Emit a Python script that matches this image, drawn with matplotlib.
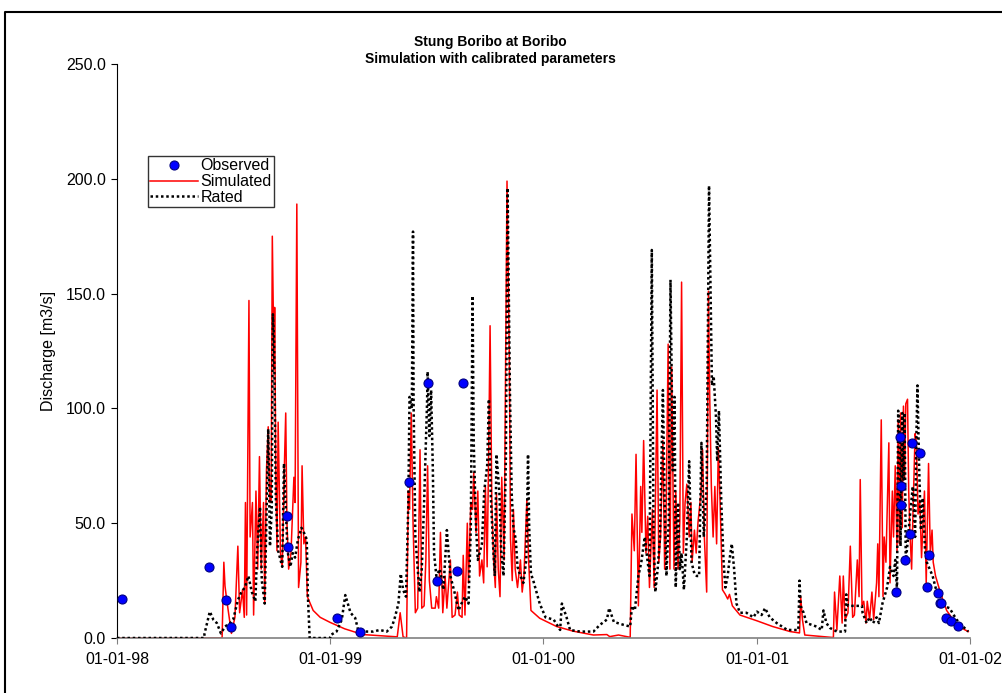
import matplotlib
matplotlib.use("Agg")
import matplotlib.pyplot as plt
from matplotlib.lines import Line2D

plt.rcParams['font.family'] = ['Liberation Sans', 'DejaVu Sans']

# days counted from 01-01-1998
sim_days = [0, 180, 183, 185, 188, 196, 202, 207, 210, 215, 218, 220, 222, 226, 228, 232, 234, 238,
            241, 244, 247, 251, 253, 256, 259, 262, 264, 266, 269, 270, 272, 274, 276, 280, 283, 287,
            289, 291, 294, 298, 303, 305, 308, 311, 315, 317, 320, 323, 326, 336, 348, 365, 390, 421,
            480, 485, 490, 496, 499, 501, 504, 507, 511, 515, 519, 522, 526, 529, 532, 535, 539, 545,
            547, 551, 554, 558, 562, 565, 571, 574, 579, 583, 586, 591, 593, 596, 600, 602, 606, 609,
            611, 615, 618, 621, 625, 628, 631, 634, 637, 639, 642, 645, 648, 650, 653, 656, 659, 663,
            668, 672, 674, 677, 679, 682, 686, 691, 694, 697, 702, 705, 709, 724, 753, 781, 816, 839,
            844, 859, 879, 882, 886, 889, 893, 897, 899, 902, 906, 909, 912, 917, 920, 925, 928, 931,
            935, 938, 940, 944, 947, 950, 954, 957, 961, 964, 967, 970, 973, 976, 980, 983, 985, 989,
            992, 995, 1000, 1003, 1006, 1010, 1013, 1015, 1018, 1021, 1024, 1027, 1030, 1033, 1037,
            1042, 1046, 1049, 1054, 1067, 1096, 1123, 1153, 1169, 1171, 1174, 1178, 1227, 1229, 1233,
            1238, 1242, 1244, 1247, 1252, 1256, 1260, 1263, 1268, 1271, 1273, 1276, 1279, 1283, 1285,
            1289, 1293, 1296, 1301, 1303, 1305, 1309, 1312, 1314, 1317, 1322, 1324, 1328, 1330, 1333,
            1336, 1338, 1340, 1342, 1345, 1347, 1349, 1351, 1354, 1356, 1358, 1361, 1364, 1367, 1369,
            1372, 1375, 1378, 1380, 1383, 1386, 1390, 1393, 1396, 1398, 1402, 1410, 1421, 1432, 1446,
            1458]
sim_vals = [0, 0, 33, 22.6, 16.5, 2, 9, 40, 11, 21, 9, 59, 10, 147, 44, 59, 10, 64,
            30, 79, 30, 59, 15, 73, 92, 59, 60, 175, 117, 144, 73, 38, 94, 37, 31, 78,
            98, 51, 30, 37, 70, 59, 189, 22, 33, 75, 41, 44, 18, 12, 9, 6.8, 4, 1.5,
            0.5, 11, 0.5, 0, 64, 56, 98, 51, 11, 13, 82, 13, 14, 34, 75, 25, 13, 13,
            18, 13, 46, 11, 27, 13, 34, 9, 10, 20, 10, 9, 36, 10, 50, 24, 59, 56,
            72, 46, 64, 27, 34, 24, 66, 31, 89, 136, 59, 34, 22, 63, 30, 18, 70, 34,
            199, 121, 43, 25, 56, 30, 22, 34, 20, 27, 60, 34, 12, 8.6, 5, 3, 1.3, 1.5,
            0.6, 1.3, 0.3, 54, 38, 80, 14, 66, 46, 86, 37, 53, 22, 56, 22, 108, 33, 44,
            86, 30, 44, 128, 30, 118, 30, 64, 30, 51, 155, 37, 59, 67, 44, 59, 33, 47,
            37, 50, 63, 82, 44, 20, 151, 108, 66, 44, 66, 41, 83, 59, 21,
            19, 17, 19, 14, 10, 7.5, 5, 2.8, 2.2, 18, 8, 1.3, 0.2, 20, 3.5,
            27, 6.5, 27, 8, 11, 40, 9, 10, 34, 18, 69, 14, 16, 6.5, 16,
            8, 20, 8, 24, 41, 18, 95, 18, 44, 33, 85, 24, 64, 44, 75,
            38, 95, 41, 98, 48, 101, 69, 102, 104, 64, 47, 30, 61, 89, 86,
            54, 60, 35, 47, 64, 24, 76, 37, 47, 33, 27, 20, 12, 8, 4.4,
            2.8]

rated_days = [0, 149, 150, 159, 165, 171, 178, 185, 194, 199, 207, 213, 219, 225, 231, 237, 240,
              245, 248, 253, 256, 259, 262, 265, 267, 269, 272, 276, 283, 286, 290, 292, 297, 301,
              305, 310, 316, 320, 325, 327, 330, 365, 366, 376, 385, 391, 400, 408, 413, 422, 439,
              450, 462, 471, 476, 482, 486, 490, 495, 499, 501, 505, 507, 508, 511, 515, 518, 522,
              526, 531, 532, 535, 538, 541, 543, 547, 553, 559, 565, 571, 578, 585, 590, 596, 602,
              606, 609, 611, 615, 618, 625, 629, 634, 637, 640, 644, 647, 650, 655, 658, 662, 666,
              669, 673, 676, 679, 683, 686, 691, 696, 701, 704, 706, 709, 713, 724, 734, 748, 759,
              762, 770, 776, 793, 816, 827, 839, 843, 851, 868, 879, 882, 887, 893, 898, 904, 908,
              912, 916, 919, 922, 926, 930, 935, 938, 941, 945, 948, 952, 955, 957, 961, 964, 967,
              971, 976, 980, 984, 989, 993, 997, 1001, 1005, 1010, 1014, 1017, 1019, 1022, 1026,
              1028, 1031, 1035, 1039, 1042, 1046, 1049, 1053, 1057, 1061, 1067, 1078, 1090, 1096,
              1104, 1110, 1118, 1130, 1148, 1167, 1169, 1171, 1176, 1181, 1198, 1207, 1210, 1215,
              1221, 1233, 1247, 1249, 1252, 1276, 1277, 1284, 1289, 1295, 1301, 1305, 1311, 1319,
              1324, 1330, 1333, 1336, 1338, 1341, 1342, 1345, 1347, 1349, 1351, 1355, 1358, 1363,
              1367, 1369, 1371, 1374, 1377, 1380, 1384, 1387, 1392, 1397, 1403, 1410, 1415, 1426,
              1438, 1449, 1458]
rated_vals = [0, 0, 2, 11.5, 8, 6.5, 2, 5, 6.5, 8, 16.5, 20, 22, 27, 20, 16, 38,
              57, 25, 15, 53, 91, 40, 56, 141, 130, 61, 38, 31, 76, 51, 38, 31, 37,
              35, 43, 48, 46, 43, 18, 0, 0, 1.3, 2.8, 8, 18.7, 11, 8.7, 3.5, 2.8, 2.8,
              3.5, 2.8, 5, 9, 15, 28, 21, 18, 59, 105, 100, 177, 102, 44, 30, 20, 30,
              59, 102, 116, 88, 108, 73, 37, 27, 30, 21, 47, 27, 20, 12, 15, 18, 15,
              48, 149, 85, 48, 34, 41, 64, 75, 104, 63, 41, 27, 80, 63, 38, 27, 77,
              196, 107, 63, 48, 43, 31, 27, 24, 34, 80, 48, 28, 25, 15, 9, 8, 3.5,
              15, 9, 3.5, 2.8, 2.8, 5.7, 8, 13, 7, 5.7, 5, 14, 12, 27, 33, 44, 35,
              27, 169, 44, 20, 30, 44, 108, 59, 27, 51, 156, 73, 105, 22, 59, 30, 37,
              21, 44, 77, 33, 28, 27, 27, 85, 44, 66, 197, 146, 110, 114, 96,
              77, 99, 59, 33, 22, 27, 34, 41, 30, 15, 11, 11, 9, 11.5,
              10, 13, 9, 6.5, 3.5, 3.5, 25, 14, 11, 6.5, 5, 3.5, 12, 6.5,
              4.4, 2.8, 2.8, 19, 14, 14, 11, 6.5, 9, 6.5, 9, 6.5, 15, 22,
              31, 27, 34, 21, 99, 86, 40, 98, 69, 98, 33, 44, 53, 66,
              44, 86, 110, 73, 47, 61, 38, 33, 30, 27, 21, 20, 14, 13,
              8, 5, 2.8]

obs_days = [9, 157, 187, 196, 291, 293, 376, 416, 500, 532, 548, 582, 593,
            1334, 1341, 1342, 1343, 1349, 1358, 1362, 1376, 1388, 1391, 1406, 1410, 1412,
            1420, 1428, 1440]
obs_vals = [17, 31, 16.5, 5, 53, 39.6, 8.9, 2.8, 68, 111, 25, 29.3, 111,
            20, 87.4, 66.3, 57.9, 34.1, 45.3, 84.8, 80.4, 22.4, 36.1, 19.7, 15.4, 15.1,
            8.6, 7.5, 5.1]

tick_days = [0, 365, 730, 1096, 1461]
tick_labels = ['01-01-98', '01-01-99', '01-01-00', '01-01-01', '01-01-02']
y_ticks = [0, 50, 100, 150, 200, 250]

fig = plt.figure(figsize=(10.02, 6.93), dpi=100)
ax = fig.add_axes([117 / 1002, 1 - 638 / 693, 853 / 1002, 574 / 693])

l_sim, = ax.plot(sim_days, sim_vals, color='#ff0000', lw=1.1, label='Simulated', zorder=2)
l_rat, = ax.plot(rated_days, rated_vals, color='black', lw=1.8, ls=(0, (1, 1.1)),
                 label='Rated', zorder=3)
l_obs, = ax.plot(obs_days, obs_vals, ls='none', marker='o', ms=6.5, mfc='#0000ff',
                 mec='#000080', mew=0.8, label='Observed', zorder=4, clip_on=False)

ax.set_xlim(0, 1461)
ax.set_ylim(0, 250)
ax.set_xticks(tick_days)
ax.set_xticklabels(tick_labels)
ax.set_yticks(y_ticks)
ax.set_yticklabels([f'{v:.1f}' for v in y_ticks])

for s in ['top', 'right']:
    ax.spines[s].set_visible(False)
ax.spines['left'].set_color('black')
ax.spines['bottom'].set_color('#808080')
ax.spines['bottom'].set_linewidth(1.2)
ax.tick_params(axis='y', direction='out', length=4, width=0.8, color='black',
               labelsize=11.5, pad=4)
ax.tick_params(axis='x', direction='out', length=4, width=0.8, color='#808080',
               labelsize=11.5, pad=6)

ax.set_ylabel('Discharge [m3/s]', fontsize=11.5)
ax.yaxis.set_label_coords(-0.072, 0.5)

fig.text(490 / 1002, 1 - 42 / 693, 'Stung Boribo at Boribo', ha='center', va='center',
         fontsize=10, fontweight='bold')
fig.text(490 / 1002, 1 - 59 / 693, 'Simulation with calibrated parameters', ha='center',
         va='center', fontsize=10, fontweight='bold')

leg = ax.legend(handles=[l_obs, l_sim, l_rat], loc='upper left',
                bbox_to_anchor=((148 - 117) / 853, (638 - 156) / 574), borderaxespad=0,
                fontsize=11.5, frameon=True, fancybox=False, edgecolor='black',
                handlelength=3.0, handletextpad=0.15, labelspacing=0.05, borderpad=0.15)
leg.get_frame().set_linewidth(1.0)

# outer chart border (top and left edges visible)
fig.add_artist(Line2D([5 / 1002, 5 / 1002, 1.0], [0.0, 1 - 12 / 693, 1 - 12 / 693],
                      transform=fig.transFigure, color='black', lw=1.5))

fig.savefig('out.png', dpi=100)
